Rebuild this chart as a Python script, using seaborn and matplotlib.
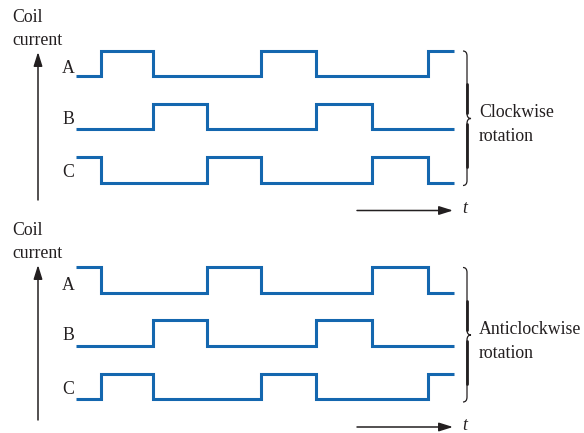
import pandas as pd
import matplotlib.pyplot as plt
import seaborn as sns
from matplotlib.path import Path
from matplotlib.patches import PathPatch

# switching instants (in step periods) and coil states (1 = energised)
t_edges = [0, 0.47, 1.43, 2.42, 3.41, 4.43, 5.47, 6.5, 6.98]
channels = ["A", "B", "C"]

cw_A = [0, 1, 0, 0, 1, 0, 0, 1, 1]
cw_B = [0, 0, 1, 0, 0, 1, 0, 0, 0]
cw_C = [1, 0, 0, 1, 0, 0, 1, 0, 0]

acw_A = [1, 0, 0, 1, 0, 0, 1, 0, 0]
acw_B = [0, 0, 1, 0, 0, 1, 0, 0, 0]
acw_C = [0, 1, 0, 0, 1, 0, 0, 1, 1]

directions = ["Clockwise", "Anticlockwise"]
waves = [
    {"A": cw_A, "B": cw_B, "C": cw_C},
    {"A": acw_A, "B": acw_B, "C": acw_C},
]

blue = "#1467af"
ink = "#231f20"
step_height = 0.475
offsets = {"A": 2, "B": 1, "C": 0}

sns.set_theme(style="white")
plt.rcParams["font.family"] = ["Liberation Serif", "DejaVu Serif"]
fs = 12.8

# per-panel layout (pixels from the top of each half)
coil_y = [22, 18.5]
arrow_tip = [52, 48.5]
arrow_tail = [200, 203.5]
label_y = {"A": 73, "B": 124, "C": 177}


def X(px):
    return (px - 75.7) / 54.2


def Y(py):
    return (182.6 - py) / 53.3


fig = plt.figure(figsize=(5.84, 4.33), dpi=100)

for i, direction in enumerate(directions):
    ax = fig.add_axes([0, 0.5 - 0.5 * i, 1, 0.5])
    rows = []
    for ch in channels:
        for t, s in zip(t_edges, waves[i][ch]):
            rows.append({"t": t, "level": offsets[ch] + step_height * s, "coil": ch})
    df = pd.DataFrame(rows)
    sns.lineplot(data=df, x="t", y="level", hue="coil", palette=[blue] * 3,
                 drawstyle="steps-post", linewidth=2.2, legend=False, ax=ax,
                 estimator=None, solid_joinstyle="miter", solid_capstyle="butt")
    ax.set_xlim(X(0), X(584))
    ax.set_ylim(Y(216.5), Y(0))
    ax.axis("off")

    # y-axis arrow and title
    ax.annotate("", xy=(X(38), Y(arrow_tip[i])), xytext=(X(38), Y(arrow_tail[i])),
                arrowprops=dict(arrowstyle="-|>,head_length=0.7,head_width=0.22",
                                color=ink, lw=1.1, shrinkA=0, shrinkB=0))
    ax.text(X(12), Y(coil_y[i]), "Coil", fontsize=fs, color=ink, va="baseline")
    ax.text(X(12), Y(coil_y[i] + 23), "current", fontsize=fs, color=ink, va="baseline")

    for ch in channels:
        ax.text(X(68), Y(label_y[ch]), ch, fontsize=fs, color=ink, va="baseline", ha="center")

    # time arrow
    ax.annotate("", xy=(X(453), Y(210.5)), xytext=(X(357), Y(210.5)),
                arrowprops=dict(arrowstyle="-|>,head_length=0.7,head_width=0.22",
                                color=ink, lw=1.1, shrinkA=0, shrinkB=0))
    ax.text(X(462), Y(213), "t", fontsize=fs, color=ink, va="baseline", style="italic")

    # brace
    top, bot, mid = 51, 185.5, 118.5
    xl, xe, xt = 467, 463, 471
    pts = [(xe, top), (xl, top), (xl, top + 5), (xl, mid - 5), (xl, mid), (xt, mid),
           (xl, mid), (xl, mid + 5), (xl, bot - 5), (xl, bot), (xe, bot)]
    codes = [Path.MOVETO, Path.CURVE3, Path.CURVE3, Path.LINETO, Path.CURVE3, Path.CURVE3,
             Path.CURVE3, Path.CURVE3, Path.LINETO, Path.CURVE3, Path.CURVE3]
    path = Path([(X(a), Y(b)) for a, b in pts], codes)
    ax.add_patch(PathPatch(path, fill=False, edgecolor=ink, lw=0.9))
    ax.plot([X(xl), X(xl)], [Y(84), Y(113)], color=ink, lw=2)
    ax.plot([X(xl), X(xl)], [Y(124), Y(167)], color=ink, lw=2)

    ax.text(X(479), Y(117), direction, fontsize=fs, color=ink, va="baseline")
    ax.text(X(479), Y(141), "rotation", fontsize=fs, color=ink, va="baseline")

fig.savefig("out.png", dpi=100, facecolor="white")
